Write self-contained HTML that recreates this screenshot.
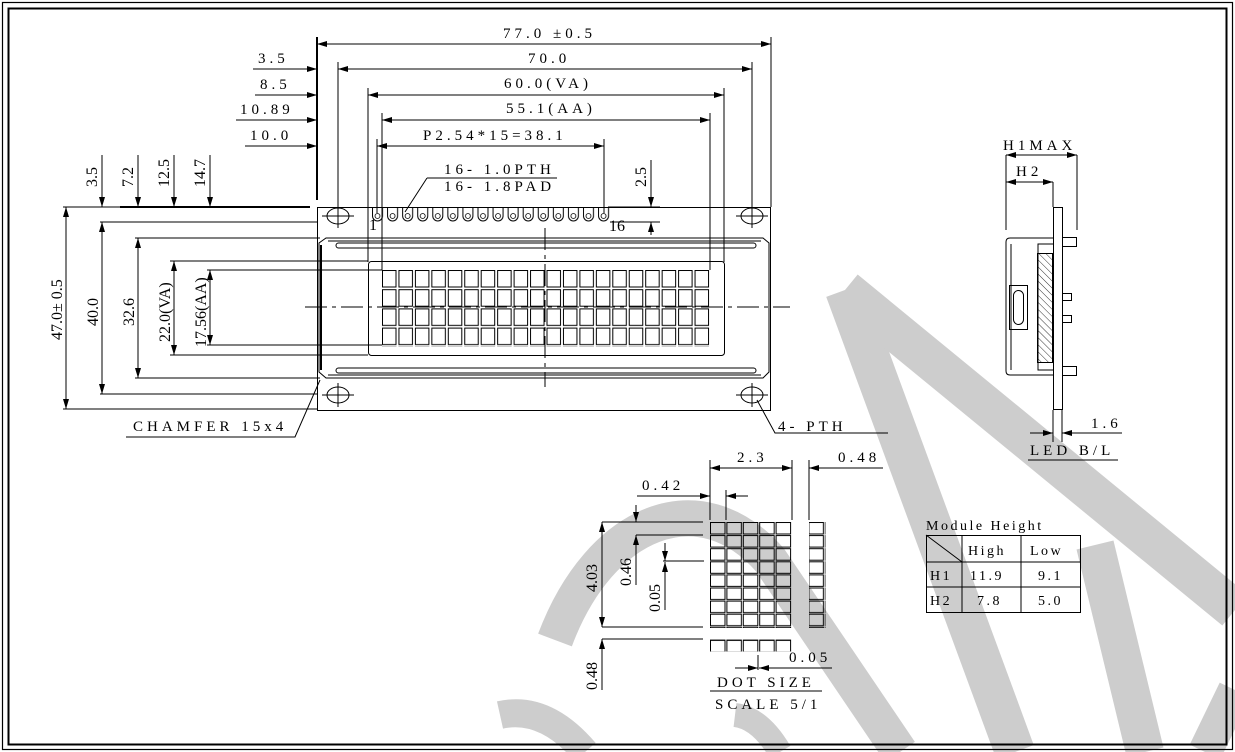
<!DOCTYPE html>
<html><head><meta charset="utf-8"><style>
html,body{margin:0;padding:0;background:#fff;}
svg{display:block;}
text{font-family:"Liberation Serif",serif;font-size:15px;fill:#000;letter-spacing:4px;}
text.r{letter-spacing:0;font-size:16px;}
text.t{letter-spacing:2.5px;font-size:14px;}
</style></head><body>
<svg width="1235" height="752" viewBox="0 0 1235 752" xmlns="http://www.w3.org/2000/svg">
<defs>
<marker id="a" viewBox="0 0 10 6" refX="10" refY="3" markerWidth="10" markerHeight="6" orient="auto-start-reverse" markerUnits="userSpaceOnUse"><path d="M0,0 L10,3 L0,6 z" fill="#000"/></marker>
<pattern id="chr" x="382" y="270" width="16.45" height="19.2" patternUnits="userSpaceOnUse"><rect x="0.5" y="0.5" width="13.5" height="16.5" fill="none" stroke="#000" stroke-width="1"/></pattern>
<pattern id="dot" x="710" y="522" width="16.4" height="13.1" patternUnits="userSpaceOnUse"><rect x="0.5" y="0.5" width="14.5" height="11.5" fill="none" stroke="#000" stroke-width="1"/></pattern>
<pattern id="pin" x="372" y="207" width="15.07" height="20" patternUnits="userSpaceOnUse"><path d="M0.5,0 V9 a5,5 0 0 0 10,0 V0" fill="none" stroke="#000" stroke-width="1"/><circle cx="5.5" cy="9" r="2.5" fill="none" stroke="#000" stroke-width="0.8"/></pattern>
<pattern id="hat" width="5" height="5" patternUnits="userSpaceOnUse" patternTransform="rotate(-45)"><line x1="0" y1="0" x2="0" y2="5" stroke="#000" stroke-width="0.8"/></pattern>
</defs>

<!-- watermark -->
<g stroke="#cdcdcd" fill="none" stroke-linecap="butt">
<path d="M845,290 L1015,752" stroke-width="40"/>
<path d="M845,290 L1235,610" stroke-width="40"/>
<path d="M1095,545 L1145,752" stroke-width="38"/>
<path d="M1235,690 L1205,752" stroke-width="34"/>
<path d="M555,640 C600,520 700,480 770,560 L900,752" stroke-width="36"/>
<path d="M500,715 Q545,705 585,752" stroke-width="28"/>
<path d="M735,715 Q760,718 780,752" stroke-width="24"/>
</g>

<!-- border -->
<rect x="2.5" y="2.5" width="1230" height="747" fill="none" stroke="#000" stroke-width="1.2"/>
<rect x="8.5" y="8.5" width="1218" height="736" fill="none" stroke="#000" stroke-width="2"/>

<g stroke="#000" stroke-width="1" fill="none">
<rect x="317.5" y="207.5" width="453" height="203"/>
<path d="M326,238 H763 L769,243 V372 L763,378 H326 L319,372 V243 Z"/>
<path d="M328,241 H761 M328,375 H761"/>
<path d="M321,245 V370" stroke-width="2"/>
<rect x="336" y="243" width="420" height="5" rx="2.5"/>
<rect x="336" y="368" width="420" height="5" rx="2.5"/>
<rect x="368.5" y="261.5" width="356" height="94" rx="3"/>
<rect x="382" y="270" width="328" height="77" fill="url(#chr)" stroke="none"/>
<rect x="372" y="207" width="241" height="16" fill="url(#pin)" stroke="none"/>
<g>
<ellipse cx="338" cy="216" rx="11" ry="8"/><ellipse cx="752" cy="216" rx="11" ry="8"/>
<ellipse cx="338" cy="395" rx="11" ry="8"/><ellipse cx="752" cy="395" rx="11" ry="8"/>
<path d="M322,216 H354 M338,204 V228 M736,216 H768 M752,204 V228 M322,395 H354 M338,383 V407 M736,395 H768 M752,383 V407"/>
</g>
<path d="M305,307 H790" stroke-dasharray="22,5,4,5"/>
<path d="M545,228 V387" stroke-dasharray="22,5,4,5"/>

<path d="M317,37 V200 M771,37 V207 M338,62 V216 M752,62 V216 M368,88 V262 M724,88 V262 M382,113 V270 M710,113 V270 M377,139 V213 M604,139 V213"/>
<path d="M317,37 V200" stroke-width="2"/>
<path d="M317,44 H771" marker-start="url(#a)" marker-end="url(#a)"/>
<path d="M253,69 H317" marker-end="url(#a)"/><path d="M338,69 H752" marker-start="url(#a)" marker-end="url(#a)"/>
<path d="M255,95 H317" marker-end="url(#a)"/><path d="M368,95 H724" marker-start="url(#a)" marker-end="url(#a)"/>
<path d="M236,120 H317" marker-end="url(#a)"/><path d="M382,120 H710" marker-start="url(#a)" marker-end="url(#a)"/>
<path d="M245,146 H317" marker-end="url(#a)"/><path d="M377,146 H604" marker-start="url(#a)" marker-end="url(#a)"/>
<path d="M427,178 H557 M427,178 L405,212"/>
<path d="M608,207 H660 M610,222 H660"/>
<path d="M651,160 V207" marker-end="url(#a)"/><path d="M651,235 V222" marker-end="url(#a)"/>

<path d="M63,207 H310 M100,222 H317 M135,238 H320 M170,261 H368 M207,270 H382 M207,345 H382 M170,355 H368 M135,378 H320 M100,394 H317 M63,409 H317"/>
<path d="M120,207 H310" stroke-width="2"/>
<path d="M66,207 V409" marker-start="url(#a)" marker-end="url(#a)"/>
<path d="M102,222 V394" marker-start="url(#a)" marker-end="url(#a)"/>
<path d="M138,238 V378" marker-start="url(#a)" marker-end="url(#a)"/>
<path d="M174,261 V355" marker-start="url(#a)" marker-end="url(#a)"/>
<path d="M210,270 V345" marker-start="url(#a)" marker-end="url(#a)"/>
<path d="M102,155 V207" marker-end="url(#a)"/>
<path d="M138,155 V207" marker-end="url(#a)"/>
<path d="M174,155 V207" marker-end="url(#a)"/>
<path d="M210,155 V207" marker-end="url(#a)"/>
<path d="M126,437 H295 L320,380"/>
<path d="M888,433 H775 L757,400"/>

<path d="M1006,155 H1077" marker-start="url(#a)" marker-end="url(#a)"/>
<path d="M1006,182 H1053" marker-start="url(#a)" marker-end="url(#a)"/>
<path d="M1006,155 V230 M1077,155 V230 M1053,182 V207"/>
<rect x="1053.5" y="207.5" width="9" height="202"/>
<path d="M1053,238 H1010 Q1006,238 1006,242 V371 Q1006,375 1010,375 H1053"/>
<path d="M1053,244 H1038 V370 H1053 M1011,244 V370"/>
<rect x="1037.5" y="253.5" width="15" height="109" fill="url(#hat)"/>
<rect x="1009.5" y="285.5" width="18" height="44"/>
<rect x="1013.5" y="290.5" width="10" height="34" rx="5"/>
<rect x="1062.5" y="237.5" width="14" height="9"/>
<rect x="1062.5" y="366.5" width="14" height="9"/>
<rect x="1062.5" y="293.5" width="9" height="7"/>
<rect x="1062.5" y="315.5" width="9" height="7"/>
<path d="M1053,410 V442 M1062,410 V442"/>
<path d="M1030,433 H1053" marker-end="url(#a)"/><path d="M1122,433 H1062" marker-end="url(#a)"/>
<path d="M1028,460 H1118"/>

<rect x="710" y="522" width="82" height="106" fill="url(#dot)" stroke="none"/>
<rect x="809" y="522" width="16.4" height="106" fill="url(#dot)" stroke="none"/>
<rect x="710" y="639" width="82" height="12.5" fill="url(#dot)" stroke="none"/>
<path d="M710,460 V520 M792,460 V520 M809,460 V520 M726,490 V520"/>
<path d="M710,468 H792" marker-start="url(#a)" marker-end="url(#a)"/>
<path d="M883,468 H809" marker-end="url(#a)"/>
<path d="M637,496 H710" marker-end="url(#a)"/><path d="M748,496 H726" marker-end="url(#a)"/>
<path d="M602,522 H703 M602,627 H703 M636,535 H703 M663,561 H704 M602,639 H703"/>
<path d="M602,522 V627" marker-start="url(#a)" marker-end="url(#a)"/>
<path d="M636,505 V522" marker-end="url(#a)"/><path d="M636,585 V535" marker-end="url(#a)"/>
<path d="M665,543 V561" marker-end="url(#a)"/><path d="M665,610 V562" marker-end="url(#a)"/>
<path d="M602,690 V639" marker-end="url(#a)"/>
<path d="M758,655 V670"/>
<path d="M735,668 H758" marker-end="url(#a)"/><path d="M832,668 H759" marker-end="url(#a)"/>
<path d="M710,691 H822"/>

<rect x="926.5" y="535.5" width="154" height="77"/>
<path d="M926,562 H1081 M926,587 H1081 M962,535 V612 M1021,535 V612 M926,535 L962,562"/>
</g>

<text x="503" y="38">77.0 ±0.5</text>
<text x="528" y="63">70.0</text>
<text x="504" y="88">60.0(VA)</text>
<text x="506" y="113">55.1(AA)</text>
<text x="423" y="140">P2.54*15=38.1</text>
<text x="258" y="63">3.5</text>
<text x="260" y="89">8.5</text>
<text x="240" y="114">10.89</text>
<text x="250" y="140">10.0</text>
<text x="444" y="174">16-  1.0PTH</text>
<text x="444" y="191">16-  1.8PAD</text>
<text class="r" x="369" y="230">1</text>
<text class="r" x="609" y="231">16</text>
<text class="r" transform="translate(646,187) rotate(-90)">2.5</text>
<text class="r" transform="translate(97,187) rotate(-90)">3.5</text>
<text class="r" transform="translate(133,187) rotate(-90)">7.2</text>
<text class="r" transform="translate(169,187) rotate(-90)">12.5</text>
<text class="r" transform="translate(205,187) rotate(-90)">14.7</text>
<text class="r" transform="translate(62,340) rotate(-90)">47.0± 0.5</text>
<text class="r" transform="translate(98,326) rotate(-90)">40.0</text>
<text class="r" transform="translate(134,326) rotate(-90)">32.6</text>
<text class="r" transform="translate(170,342) rotate(-90)">22.0(VA)</text>
<text class="r" transform="translate(206,347) rotate(-90)">17.56(AA)</text>
<text class="r" transform="translate(597,592) rotate(-90)">4.03</text>
<text class="r" transform="translate(631,586) rotate(-90)">0.46</text>
<text class="r" transform="translate(660,612) rotate(-90)">0.05</text>
<text class="r" transform="translate(597,690) rotate(-90)">0.48</text>
<text x="133" y="431">CHAMFER 15x4</text>
<text x="778" y="431">4-     PTH</text>
<text x="1003" y="150">H1MAX</text>
<text x="1016" y="176">H2</text>
<text x="1091" y="428">1.6</text>
<text x="1030" y="455">LED B/L</text>
<text x="737" y="462">2.3</text>
<text x="838" y="462">0.48</text>
<text x="642" y="490">0.42</text>
<text x="789" y="662">0.05</text>
<text x="717" y="687">DOT SIZE</text>
<text x="715" y="709">SCALE 5/1</text>
<text class="t" x="926" y="530">Module Height</text>
<text class="t" x="968" y="555">High</text>
<text class="t" x="1030" y="555">Low</text>
<text class="t" x="930" y="580">H1</text>
<text class="t" x="970" y="580">11.9</text>
<text class="t" x="1038" y="580">9.1</text>
<text class="t" x="930" y="605">H2</text>
<text class="t" x="977" y="605">7.8</text>
<text class="t" x="1038" y="605">5.0</text>
</svg>
</body></html>
